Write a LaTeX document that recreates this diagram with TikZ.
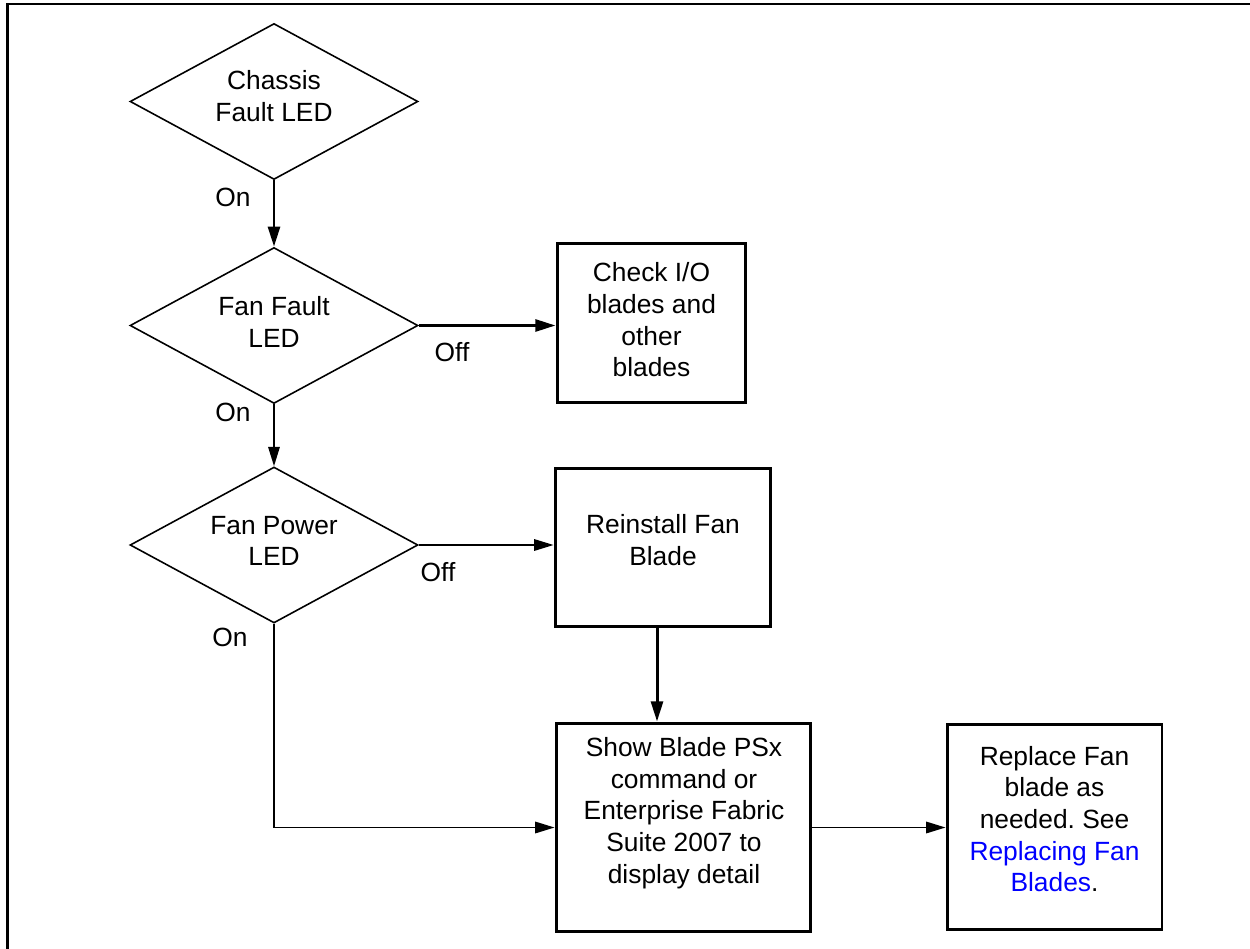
\documentclass[tikz,border=0pt]{standalone}
\usepackage{fontspec}
\setmainfont{Liberation Sans}
\usetikzlibrary{shapes.geometric,arrows.meta}
\definecolor{linkblue}{RGB}{0,0,255}
\frenchspacing
\begin{document}
\begin{tikzpicture}[x=0.02cm,y=-0.02cm,
  every node/.style={font=\fontsize{15}{18}\selectfont},
  box/.style={draw,line width=1.7pt,inner sep=0pt},
  dec/.style={diamond,draw,line width=0.9pt,inner sep=0pt,minimum width=5.76cm,minimum height=3.12cm},
  txt/.style={align=center,inner sep=0pt},
  lbl/.style={inner sep=0pt},
  bigarrow/.style={line width=1.7pt,-{Triangle[length=11.5pt,width=6.8pt]}},
  smallarrow/.style={line width=1pt,-{Triangle[length=11pt,width=6.5pt]}},
  frame/.style={line width=1.2pt}]
\useasboundingbox (0,0) rectangle (1250,949);
\draw[frame] (1250,4) -- (7.5,4) -- (7.5,949);
% decisions
\node[dec] (d1) at (274,101.5) {};
\node[dec] (d2) at (274,325.5) {};
\node[dec] (d3) at (274,545) {};
\node[txt] (d1t) at (274,96) {Chassis\\Fault LED};
\node[txt] (d2t) at (274,322) {Fan Fault\\LED};
\node[txt] (d3t) at (274,541) {Fan Power\\LED};
% boxes
\node[box,minimum width=3.78cm,minimum height=3.2cm] (chk) at (651.5,323) {};
\node[box,minimum width=4.32cm,minimum height=3.18cm] (reinst) at (663,547.5) {};
\node[box,minimum width=5.1cm,minimum height=4.18cm] (show) at (683.5,827.5) {};
\node[box,minimum width=4.3cm,minimum height=4.12cm] (repl) at (1054.5,827) {};
\node[txt] (chkt) at (651.5,320) {Check I/O\\blades and\\other\\blades};
\node[txt] (reinstt) at (663,540) {Reinstall Fan\\Blade};
\node[txt] (showt) at (684,813) {Show Blade PSx\\command or\\Enterprise Fabric\\Suite 2007 to\\display detail};
\node[txt] (replt) at (1054.5,819) {Replace Fan\\blade as\\needed. See\\\textcolor{linkblue}{Replacing Fan}\\\textcolor{linkblue}{Blades}.};
% connectors
\coordinate (rx) at (657,0);
\draw[bigarrow] (d1.south) -- (d2.north);
\draw[bigarrow] (d2.east) -- (d2.east -| chk.west);
\draw[smallarrow] (d2.south) -- (d3.north);
\draw[smallarrow] (d3.east) -- (d3.east -| reinst.west);
\draw[bigarrow] (reinst.south -| rx) -- (show.north -| rx);
\draw[smallarrow] (d3.south) |- (show.west);
\draw[smallarrow] (show.east) -- (show.east -| repl.west);
% labels
\node[lbl] (on1) at (233,197) {On};
\node[lbl] (on2) at (233,412) {On};
\node[lbl] (on3) at (230,637) {On};
\node[lbl] (off1) at (452,352) {Off};
\node[lbl] (off2) at (438,572) {Off};
\end{tikzpicture}
\end{document}
